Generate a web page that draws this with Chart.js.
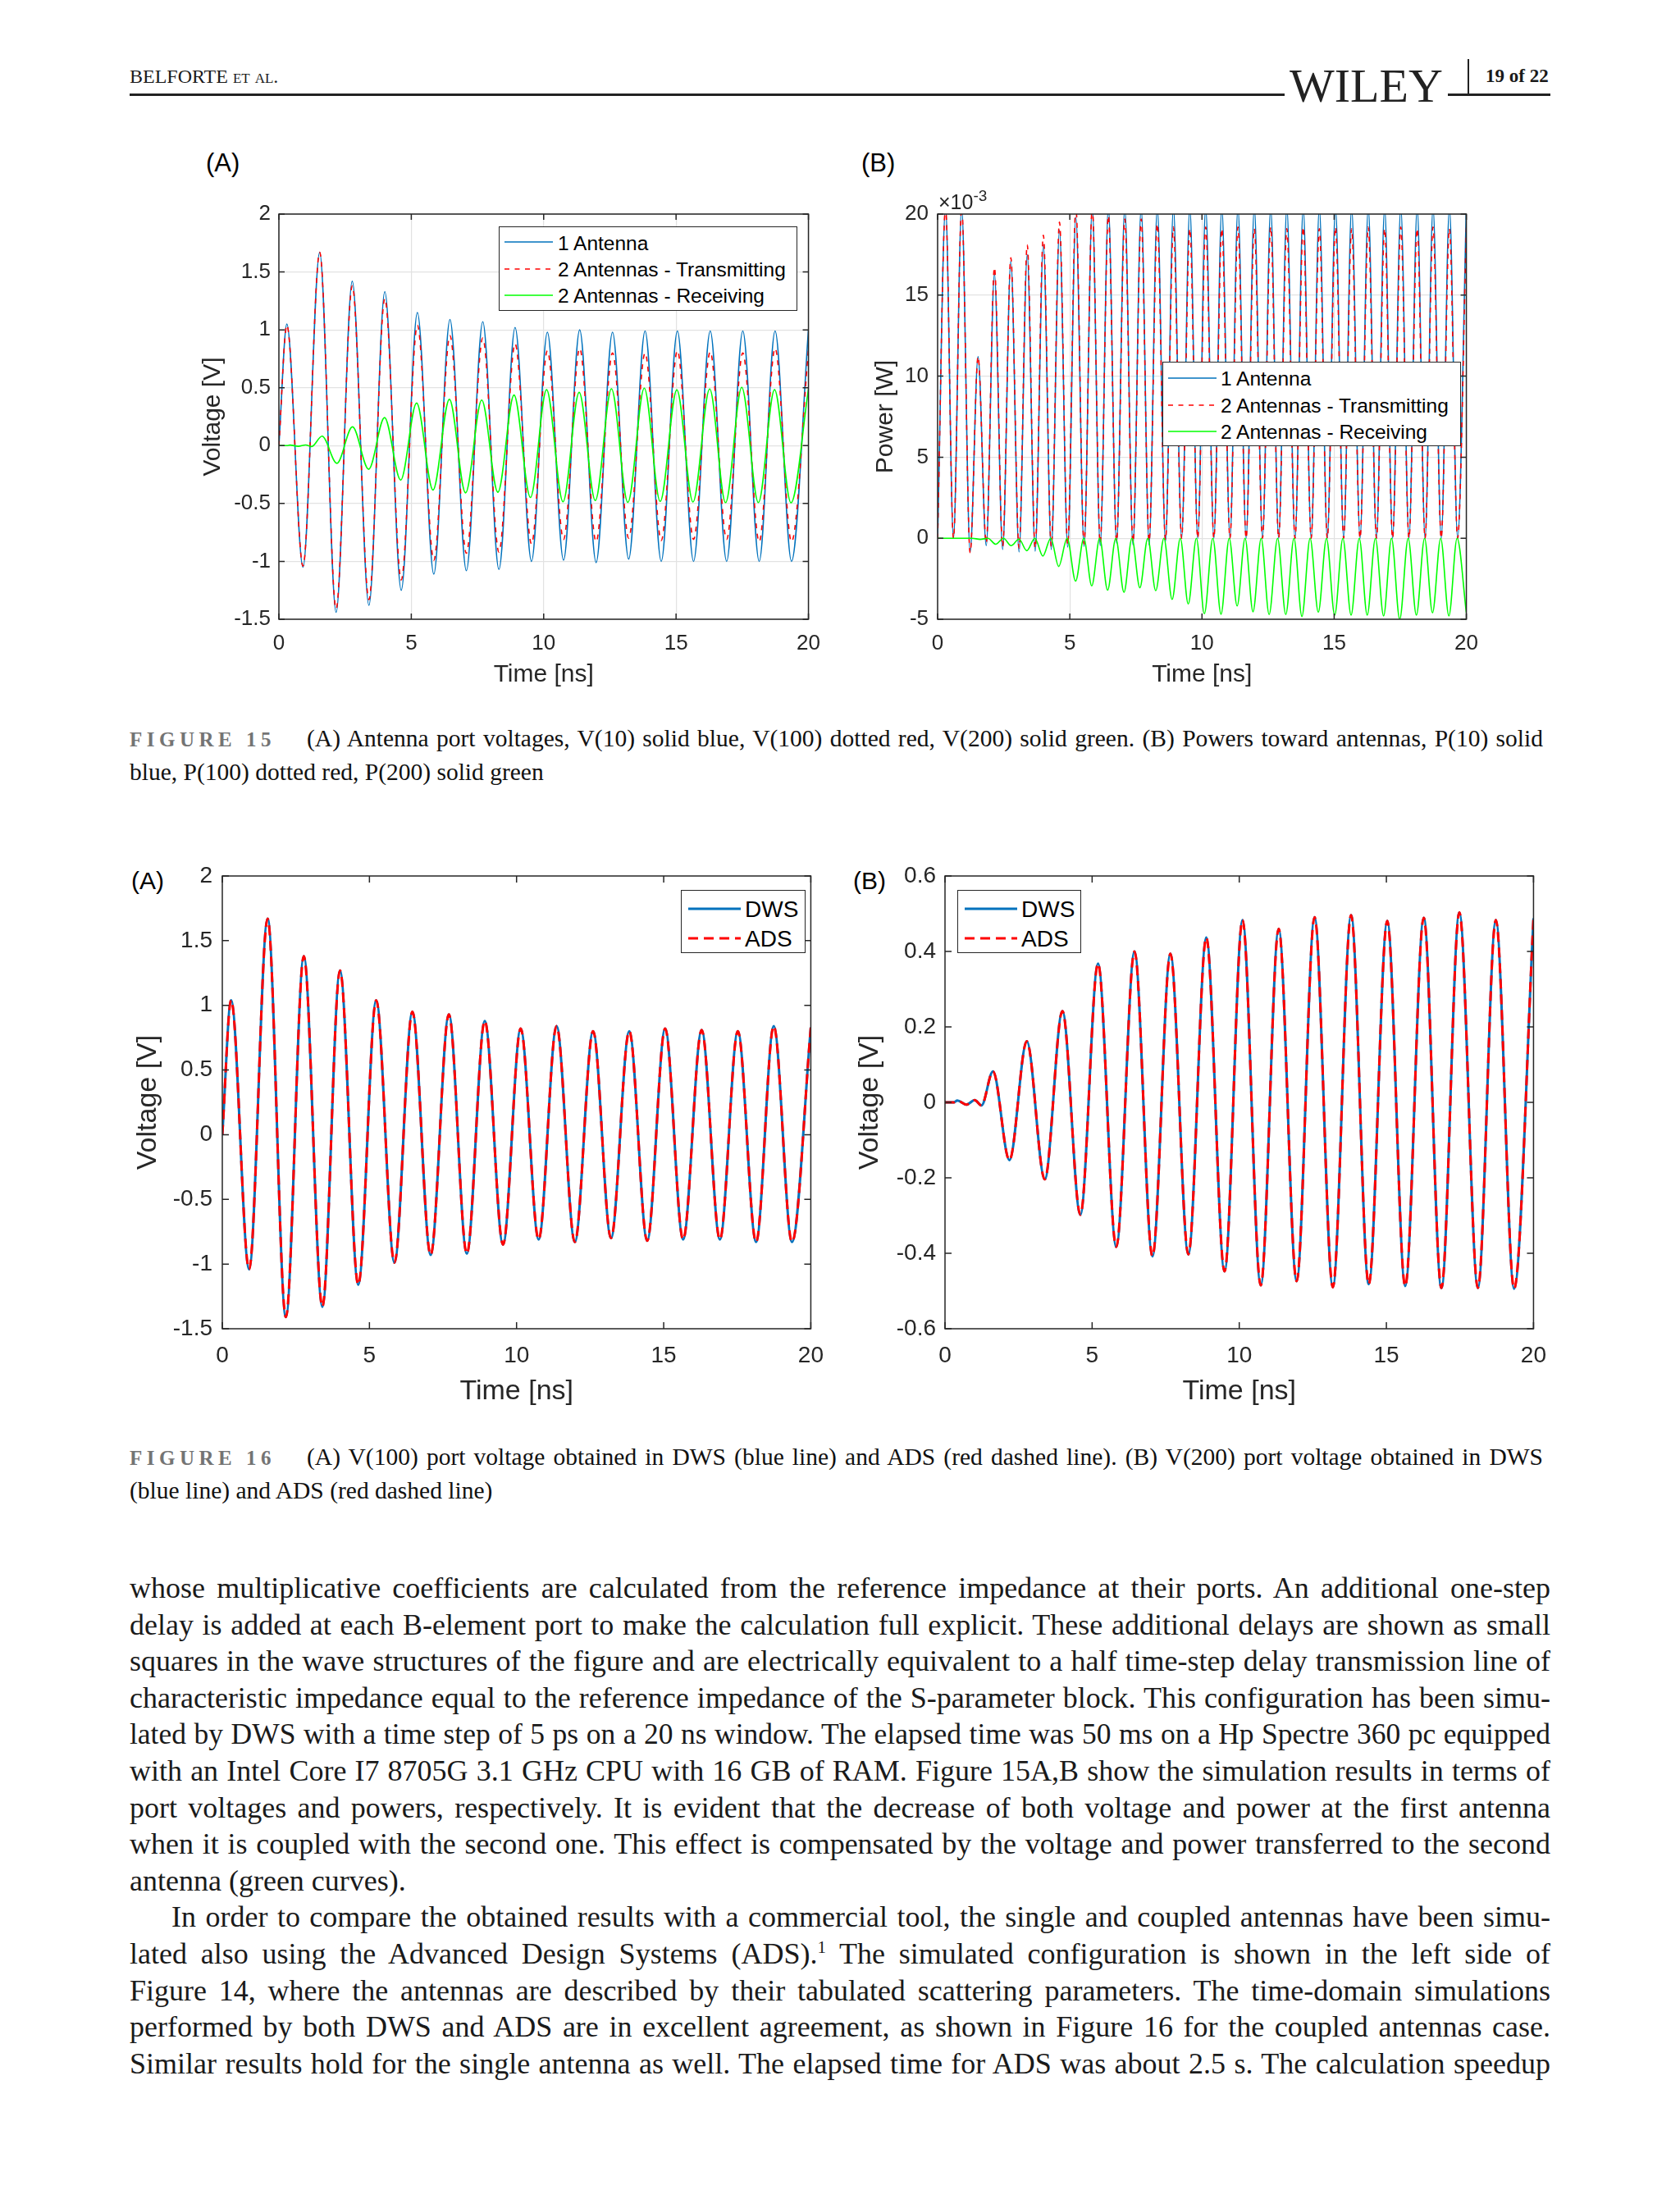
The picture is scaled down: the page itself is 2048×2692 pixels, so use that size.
<!DOCTYPE html>
<html>
<head>
<meta charset="utf-8">
<title>Figures 15 and 16</title>
<script src="https://cdn.jsdelivr.net/npm/chart.js@4.4.0/dist/chart.umd.min.js"></script>
<style>
  body { margin:0; width:2048px; height:2692px; position:relative; background:#fff; font-family:"Liberation Serif", serif; color:#1a1a1a; }
  .abs { position:absolute; }
  canvas { position:absolute; }
  .sans { font-family:"Liberation Sans", Arial, sans-serif; }
  .legend { position:absolute; background:#fff; border:1.5px solid #262626; box-sizing:border-box; font-family:"Liberation Sans", Arial, sans-serif; color:#000; }
  .legend svg { position:absolute; left:0; top:0; }
  .legend .lt { position:absolute; line-height:1; white-space:nowrap; transform:translateY(-50%); }
  .panel { position:absolute; font-family:"Liberation Sans", Arial, sans-serif; color:#000; line-height:1; }
  .just { text-align:justify; text-align-last:justify; white-space:nowrap; }
  .line { position:absolute; left:158px; width:1732px; font-size:36px; line-height:44.6px; }
  .cap { position:absolute; left:158px; width:1723px; font-size:29.5px; line-height:41px; color:#111; }
  .figlab { display:inline-block; width:216px; color:#747474; letter-spacing:5.5px; font-size:25px; font-weight:bold; text-align:left; text-align-last:left; }
</style>
</head>
<body>

<!-- page header -->
<div class="abs" style="left:158px;top:79px;font-size:24px;line-height:28px;">BELFORTE <span style="font-variant:small-caps">et al.</span></div>
<div class="abs" style="left:158px;top:114px;width:1732px;height:2.5px;background:#222;"></div>
<div class="abs" style="left:1566px;top:76px;font-size:58px;line-height:58px;background:#fff;padding:0 6px;color:#222;">WILEY</div>
<div class="abs" style="left:1789px;top:72px;width:1.5px;height:43px;background:#222;"></div>
<div class="abs" style="left:1811px;top:79px;font-size:23px;line-height:28px;font-weight:bold;">19 of 22</div>

<!-- figure 15 -->
<div class="panel" style="left:251px;top:183px;font-size:31px;">(A)</div>
<div class="panel" style="left:1050px;top:183px;font-size:31px;">(B)</div>
<canvas id="fig15a" width="772" height="610" style="left:242px;top:231px;"></canvas>
<canvas id="fig15b" width="754" height="610" style="left:1062px;top:231px;"></canvas>
<div class="abs sans" style="left:1144px;top:232px;font-size:25px;line-height:28px;color:#262626;">×10<sup style="font-size:19px;vertical-align:10px;line-height:0;">-3</sup></div>

<div class="legend" style="left:608px;top:276px;width:364px;height:103px;font-size:24.5px;">
  <svg width="364" height="103">
    <line x1="6" y1="18" x2="65" y2="18" stroke="#0072BD" stroke-width="1.6"/>
    <line x1="6" y1="51" x2="65" y2="51" stroke="#FF0000" stroke-width="1.6" stroke-dasharray="6 6.5"/>
    <line x1="6" y1="83" x2="65" y2="83" stroke="#00FF00" stroke-width="1.6"/>
  </svg>
  <div class="lt" style="left:71px;top:20px;">1 Antenna</div>
  <div class="lt" style="left:71px;top:52px;">2 Antennas - Transmitting</div>
  <div class="lt" style="left:71px;top:84px;">2 Antennas - Receiving</div>
</div>
<div class="legend" style="left:1417px;top:441px;width:364px;height:103px;font-size:24.5px;">
  <svg width="364" height="103">
    <line x1="6" y1="19" x2="65" y2="19" stroke="#0072BD" stroke-width="1.6"/>
    <line x1="6" y1="52" x2="65" y2="52" stroke="#FF0000" stroke-width="1.6" stroke-dasharray="6 6.5"/>
    <line x1="6" y1="84" x2="65" y2="84" stroke="#00FF00" stroke-width="1.6"/>
  </svg>
  <div class="lt" style="left:70px;top:20px;">1 Antenna</div>
  <div class="lt" style="left:70px;top:53px;">2 Antennas - Transmitting</div>
  <div class="lt" style="left:70px;top:85px;">2 Antennas - Receiving</div>
</div>

<div class="cap just" style="top:880px;"><span class="figlab">FIGURE 15</span>(A) Antenna port voltages, V(10) solid blue, V(100) dotted red, V(200) solid green. (B) Powers toward antennas, P(10) solid</div>
<div class="cap" style="top:921px;">blue, P(100) dotted red, P(200) solid green</div>

<!-- figure 16 -->
<div class="panel" style="left:160px;top:1059px;font-size:30px;">(A)</div>
<div class="panel" style="left:1040px;top:1059px;font-size:30px;">(B)</div>
<canvas id="fig16a" width="860" height="679" style="left:160px;top:1038px;"></canvas>
<canvas id="fig16b" width="861" height="679" style="left:1040px;top:1038px;"></canvas>

<div class="legend" style="left:830px;top:1085px;width:152px;height:77px;font-size:28px;">
  <svg width="152" height="77">
    <line x1="8" y1="22" x2="72" y2="22" stroke="#0072BD" stroke-width="3"/>
    <line x1="8" y1="58" x2="72" y2="58" stroke="#FF0000" stroke-width="3" stroke-dasharray="12 7"/>
  </svg>
  <div class="lt" style="left:77px;top:23px;">DWS</div>
  <div class="lt" style="left:77px;top:59px;">ADS</div>
</div>
<div class="legend" style="left:1167px;top:1085px;width:151px;height:77px;font-size:28px;">
  <svg width="151" height="77">
    <line x1="8" y1="22" x2="72" y2="22" stroke="#0072BD" stroke-width="3"/>
    <line x1="8" y1="58" x2="72" y2="58" stroke="#FF0000" stroke-width="3" stroke-dasharray="12 7"/>
  </svg>
  <div class="lt" style="left:77px;top:23px;">DWS</div>
  <div class="lt" style="left:77px;top:59px;">ADS</div>
</div>

<div class="cap just" style="top:1756px;"><span class="figlab">FIGURE 16</span>(A) V(100) port voltage obtained in DWS (blue line) and ADS (red dashed line). (B) V(200) port voltage obtained in DWS</div>
<div class="cap" style="top:1797px;">(blue line) and ADS (red dashed line)</div>

<!-- body text -->
<div class="line just" style="top:1914px;">whose multiplicative coefficients are calculated from the reference impedance at their ports. An additional one-step</div>
<div class="line just" style="top:1958.6px;">delay is added at each B-element port to make the calculation full explicit. These additional delays are shown as small</div>
<div class="line just" style="top:2003.2px;">squares in the wave structures of the figure and are electrically equivalent to a half time-step delay transmission line of</div>
<div class="line just" style="top:2047.8px;">characteristic impedance equal to the reference impedance of the S-parameter block. This configuration has been simu-</div>
<div class="line just" style="top:2092.4px;">lated by DWS with a time step of 5 ps on a 20 ns window. The elapsed time was 50 ms on a Hp Spectre 360 pc equipped</div>
<div class="line just" style="top:2137px;">with an Intel Core I7 8705G 3.1 GHz CPU with 16 GB of RAM. Figure 15A,B show the simulation results in terms of</div>
<div class="line just" style="top:2181.6px;">port voltages and powers, respectively. It is evident that the decrease of both voltage and power at the first antenna</div>
<div class="line just" style="top:2226.2px;">when it is coupled with the second one. This effect is compensated by the voltage and power transferred to the second</div>
<div class="line" style="top:2270.8px;">antenna (green curves).</div>
<div class="line just" style="top:2315.4px;padding-left:51px;width:1681px;">In order to compare the obtained results with a commercial tool, the single and coupled antennas have been simu-</div>
<div class="line just" style="top:2360px;">lated also using the Advanced Design Systems (ADS).<sup style="font-size:21px;line-height:0;">1</sup> The simulated configuration is shown in the left side of</div>
<div class="line just" style="top:2404.6px;">Figure 14, where the antennas are described by their tabulated scattering parameters. The time-domain simulations</div>
<div class="line just" style="top:2449.2px;">performed by both DWS and ADS are in excellent agreement, as shown in Figure 16 for the coupled antennas case.</div>
<div class="line just" style="top:2493.8px;">Similar results hold for the single antenna as well. The elapsed time for ADS was about 2.5 s. The calculation speedup</div>

<script>
// ---- data (time in ns) ----

// extrema times of the V(10) / V(100) waveforms
const tV = [0, 0.30, 0.91, 1.54, 2.16, 2.77, 3.40, 4.00, 4.62, 5.23, 5.85, 6.46, 7.08, 7.70, 8.31, 8.92, 9.54,
  10.14, 10.75, 11.36, 11.98, 12.60, 13.21, 13.83, 14.44, 15.05, 15.66, 16.29, 16.91, 17.52, 18.14, 18.74, 19.36, 20.0];

// V(10) single antenna [V]
const v1Antenna = [0, 1.05, -1.05, 1.67, -1.44, 1.42, -1.38, 1.33, -1.25, 1.15, -1.11, 1.09, -1.08, 1.07, -1.07, 1.02, -1.00,
  0.98, -0.99, 1.00, -1.01, 0.98, -0.98, 0.99, -1.00, 0.99, -1.00, 0.99, -1.00, 0.99, -1.00, 0.99, -1.00, 1.00];

// V(100) transmitting port, two antennas [V]
const v100 = [0, 1.04, -1.04, 1.67, -1.41, 1.38, -1.33, 1.27, -1.16, 1.04, -0.99, 0.95, -0.93, 0.93, -0.92, 0.88, -0.85,
  0.82, -0.81, 0.84, -0.83, 0.80, -0.80, 0.80, -0.82, 0.82, -0.81, 0.81, -0.81, 0.80, -0.83, 0.84, -0.83, 0.83];

// extrema times of V(200)
const tV200 = [0, 0.30, 0.42, 0.73, 1.01, 1.24, 1.63, 2.19, 2.78, 3.39, 3.99, 4.60, 5.20, 5.82, 6.44, 7.05, 7.66, 8.27,
  8.88, 9.50, 10.11, 10.73, 11.34, 11.95, 12.56, 13.18, 13.80, 14.40, 15.03, 15.64, 16.27, 16.87, 17.48, 18.11, 18.72, 19.34, 20.0];

// V(200) receiving port [V]
const v200 = [0, 0, 0.005, -0.006, 0.006, -0.008, 0.082, -0.153, 0.162, -0.204, 0.242, -0.298, 0.368, -0.383, 0.400, -0.408,
  0.394, -0.403, 0.437, -0.448, 0.483, -0.485, 0.460, -0.474, 0.491, -0.490, 0.496, -0.482, 0.481, -0.487, 0.489, -0.492,
  0.503, -0.492, 0.483, -0.494, 0.488];

// power peaks / minima times for P(10), P(100)
const tP = [0, 0.30, 0.60, 0.91, 1.23, 1.53, 1.84, 2.15, 2.46, 2.77, 3.08, 3.39, 3.69, 4.00, 4.30, 4.61, 4.92, 5.23, 5.54, 5.85,
  6.15, 6.46, 6.77, 7.08, 7.39, 7.70, 8.00, 8.31, 8.62, 8.92, 9.23, 9.54, 9.84, 10.14, 10.45, 10.75, 11.06, 11.36, 11.67, 11.98,
  12.29, 12.60, 12.90, 13.21, 13.52, 13.83, 14.13, 14.44, 14.74, 15.05, 15.36, 15.66, 15.98, 16.29, 16.60, 16.91, 17.21, 17.52,
  17.83, 18.14, 18.44, 18.74, 19.05, 19.36, 19.67, 20.0];

// powers in units of 1e-3 W (axis shows x10^-3)
const p1Antenna = [
  0, 20.4, 0, 20.4, -0.85, 11.2, -0.45, 16.3, -0.7, 17.1,
  -0.85, 17.5, -0.8, 18.1, -0.7, 19.0, -0.55, 19.8, -0.5, 20.4,
  -0.45, 20.4, -0.3, 20.4, -0.4, 20.4, -0.4, 20.4, -0.2, 20.4,
  0, 20.4, 0, 20.4, 0, 20.4, 0, 20.4, 0, 20.4,
  0, 20.4, 0, 20.4, 0, 20.4, 0, 20.4, 0, 20.4,
  0, 20.4, 0, 20.4, 0, 20.4, 0, 20.4, 0, 20.4,
  0, 20.4, 0, 20.4, 0, 20.4];
const p100 = [
  0, 20.4, 0, 20.4, -0.9, 11.2, -0.3, 16.7, -0.5, 17.3,
  -0.6, 18.1, -0.6, 18.7, -0.5, 19.5, -0.4, 20.4, -0.35, 20.4,
  -0.3, 19.9, -0.2, 19.7, -0.25, 19.7, -0.2, 19.4, -0.1, 19.2,
  0, 19.1, 0, 19.2, 0, 19.1, 0, 19.2, 0, 19.1,
  0, 19.2, 0, 19.1, 0, 19.2, 0, 19.1, 0, 19.2,
  0, 19.1, 0, 19.2, 0, 19.1, 0, 19.2, 0, 19.1,
  0, 19.2, 0, 19.1, 0, 19.2];

// P(200) receiving antenna
const tP200 = [0, 1.30, 1.61, 1.90, 2.20, 2.49, 2.78, 3.08, 3.37, 3.68, 3.98, 4.28, 4.58, 4.90, 5.22, 5.53, 5.83, 6.13, 6.43,
  6.74, 7.05, 7.35, 7.65, 7.95, 8.25, 8.56, 8.87, 9.18, 9.48, 9.79, 10.09, 10.41, 10.72, 11.03, 11.33, 11.63, 11.93, 12.24,
  12.54, 12.86, 13.17, 13.48, 13.78, 14.09, 14.40, 14.71, 15.02, 15.33, 15.64, 15.95, 16.25, 16.56, 16.87, 17.17, 17.48,
  17.80, 18.11, 18.42, 18.72, 19.03, 19.34, 19.65, 20.0];
const p200 = [0, 0, -0.07, 0, -0.37, 0, -0.46, -0.05, -0.77, 0, -1.1, 0, -1.74, 0, -2.65, 0, -2.94, 0, -3.2, 0, -3.34, 0,
  -3.06, 0, -3.24, 0, -3.77, 0, -4.06, 0, -4.66, 0, -4.69, 0, -4.18, 0, -4.54, 0, -4.71, 0, -4.71, 0, -4.83, 0, -4.57, 0,
  -4.75, 0, -4.75, 0, -4.75, 0, -4.8, 0, -5.0, 0, -4.75, 0, -4.6, 0, -4.8, 0, -4.6];

// axis ticks
const timeTicks = [0, 5, 10, 15, 20];
const voltTicks = [-1.5, -1, -0.5, 0, 0.5, 1, 1.5, 2];
const powerTicks = [-5, 0, 5, 10, 15, 20];
const volt200Ticks = [-0.6, -0.4, -0.2, 0, 0.2, 0.4, 0.6];

// ---- helpers ----
const AXIS = '#262626';
const SANS = "'Liberation Sans', Arial, sans-serif";

function toPoints(times, vals) {
  return times.map((t, i) => ({ x: t, y: vals[i] }));
}

function serie(label, times, vals, color, width, dash, order) {
  return {
    label: label,
    data: toPoints(times, vals),
    borderColor: color,
    borderWidth: width,
    borderDash: dash || [],
    pointRadius: 0,
    fill: false,
    cubicInterpolationMode: 'monotone',
    order: order
  };
}

// MATLAB-like box with inward ticks on all four sides
const boxPlugin = {
  id: 'matlabBox',
  afterDatasetsDraw(chart, args, opts) {
    const { ctx, chartArea: a, scales } = chart;
    const len = opts.tickLen || 7;
    ctx.save();
    ctx.strokeStyle = AXIS;
    ctx.lineWidth = opts.lineWidth || 1.5;
    ctx.beginPath();
    scales.x.ticks.forEach(t => {
      const px = scales.x.getPixelForValue(t.value);
      ctx.moveTo(px, a.bottom); ctx.lineTo(px, a.bottom - len);
      ctx.moveTo(px, a.top); ctx.lineTo(px, a.top + len);
    });
    scales.y.ticks.forEach(t => {
      const py = scales.y.getPixelForValue(t.value);
      ctx.moveTo(a.left, py); ctx.lineTo(a.left + len, py);
      ctx.moveTo(a.right, py); ctx.lineTo(a.right - len, py);
    });
    ctx.stroke();
    ctx.strokeRect(a.left, a.top, a.right - a.left, a.bottom - a.top);
    ctx.restore();
  }
};

function makeChart(id, o) {
  const grid = { display: o.grid, color: '#e2e2e2', lineWidth: 1.2, drawTicks: false };
  return new Chart(document.getElementById(id), {
    type: 'line',
    data: { datasets: o.datasets },
    options: {
      responsive: false,
      animation: false,
      events: [],
      layout: { padding: { top: 30, right: 24, left: 0, bottom: 0 } },
      plugins: {
        legend: { display: false },
        tooltip: { enabled: false },
        matlabBox: { tickLen: o.tickLen, lineWidth: 1.5 }
      },
      scales: {
        x: {
          type: 'linear', min: 0, max: 20,
          afterBuildTicks: s => { s.ticks = timeTicks.map(v => ({ value: v })); },
          afterFit: s => { s.height = o.xAxisH; },
          grid: grid,
          border: { display: false },
          ticks: { color: AXIS, padding: o.xTickPad, maxRotation: 0, autoSkip: false,
                   font: { family: SANS, size: o.tickSize }, callback: v => String(v) },
          title: { display: true, text: 'Time [ns]', color: AXIS, padding: 0,
                   font: { family: SANS, size: o.titleSize, lineHeight: 1.2 } }
        },
        y: {
          type: 'linear', min: o.yMin, max: o.yMax,
          afterBuildTicks: s => { s.ticks = o.yTicks.map(v => ({ value: v })); },
          afterFit: s => { s.width = o.yAxisW; },
          grid: grid,
          border: { display: false },
          ticks: { color: AXIS, padding: o.yTickPad, autoSkip: false,
                   font: { family: SANS, size: o.tickSize }, callback: v => String(v) },
          title: { display: true, text: o.yTitle, color: AXIS, padding: 0,
                   font: { family: SANS, size: o.titleSize, lineHeight: 1.2 } }
        }
      }
    },
    plugins: [boxPlugin]
  });
}

// ---- Figure 15 (A): port voltages ----
makeChart('fig15a', {
  datasets: [
    serie('1 Antenna', tV, v1Antenna, '#0072BD', 1.6, null, 3),
    serie('2 Antennas - Transmitting', tV, v100, '#FF0000', 1.6, [6, 6.5], 2),
    serie('2 Antennas - Receiving', tV200, v200, '#00FF00', 1.6, null, 1)
  ],
  grid: true, yMin: -1.5, yMax: 2, yTicks: voltTicks, yTitle: 'Voltage [V]',
  yAxisW: 98, xAxisH: 86, tickSize: 26, titleSize: 30, xTickPad: 14, yTickPad: 10, tickLen: 7
});

// ---- Figure 15 (B): powers toward antennas ----
makeChart('fig15b', {
  datasets: [
    serie('1 Antenna', tP, p1Antenna, '#0072BD', 1.6, null, 3),
    serie('2 Antennas - Transmitting', tP, p100, '#FF0000', 1.6, [6, 6.5], 2),
    serie('2 Antennas - Receiving', tP200, p200, '#00FF00', 1.6, null, 1)
  ],
  grid: true, yMin: -5, yMax: 20, yTicks: powerTicks, yTitle: 'Power [W]',
  yAxisW: 81, xAxisH: 86, tickSize: 26, titleSize: 30, xTickPad: 14, yTickPad: 11, tickLen: 7
});

// ---- Figure 16 (A): V(100) DWS vs ADS ----
makeChart('fig16a', {
  datasets: [
    serie('DWS', tV, v100, '#0072BD', 3, null, 2),
    serie('ADS', tV, v100, '#FF0000', 3, [12, 7], 1)
  ],
  grid: false, yMin: -1.5, yMax: 2, yTicks: voltTicks, yTitle: 'Voltage [V]',
  yAxisW: 111, xAxisH: 97, tickSize: 28, titleSize: 34, xTickPad: 16, yTickPad: 12, tickLen: 8
});

// ---- Figure 16 (B): V(200) DWS vs ADS ----
makeChart('fig16b', {
  datasets: [
    serie('DWS', tV200, v200, '#0072BD', 3, null, 2),
    serie('ADS', tV200, v200, '#FF0000', 3, [12, 7], 1)
  ],
  grid: false, yMin: -0.6, yMax: 0.6, yTicks: volt200Ticks, yTitle: 'Voltage [V]',
  yAxisW: 112, xAxisH: 97, tickSize: 28, titleSize: 34, xTickPad: 16, yTickPad: 11, tickLen: 8
});

// justified lines must stay on one line: shrink a line a little if it does not fit
document.querySelectorAll('.just').forEach(el => {
  let fs = parseFloat(getComputedStyle(el).fontSize);
  while (el.scrollWidth > el.clientWidth + 1 && fs > 20) {
    fs -= 0.5;
    el.style.fontSize = fs + 'px';
  }
});
</script>
</body>
</html>
